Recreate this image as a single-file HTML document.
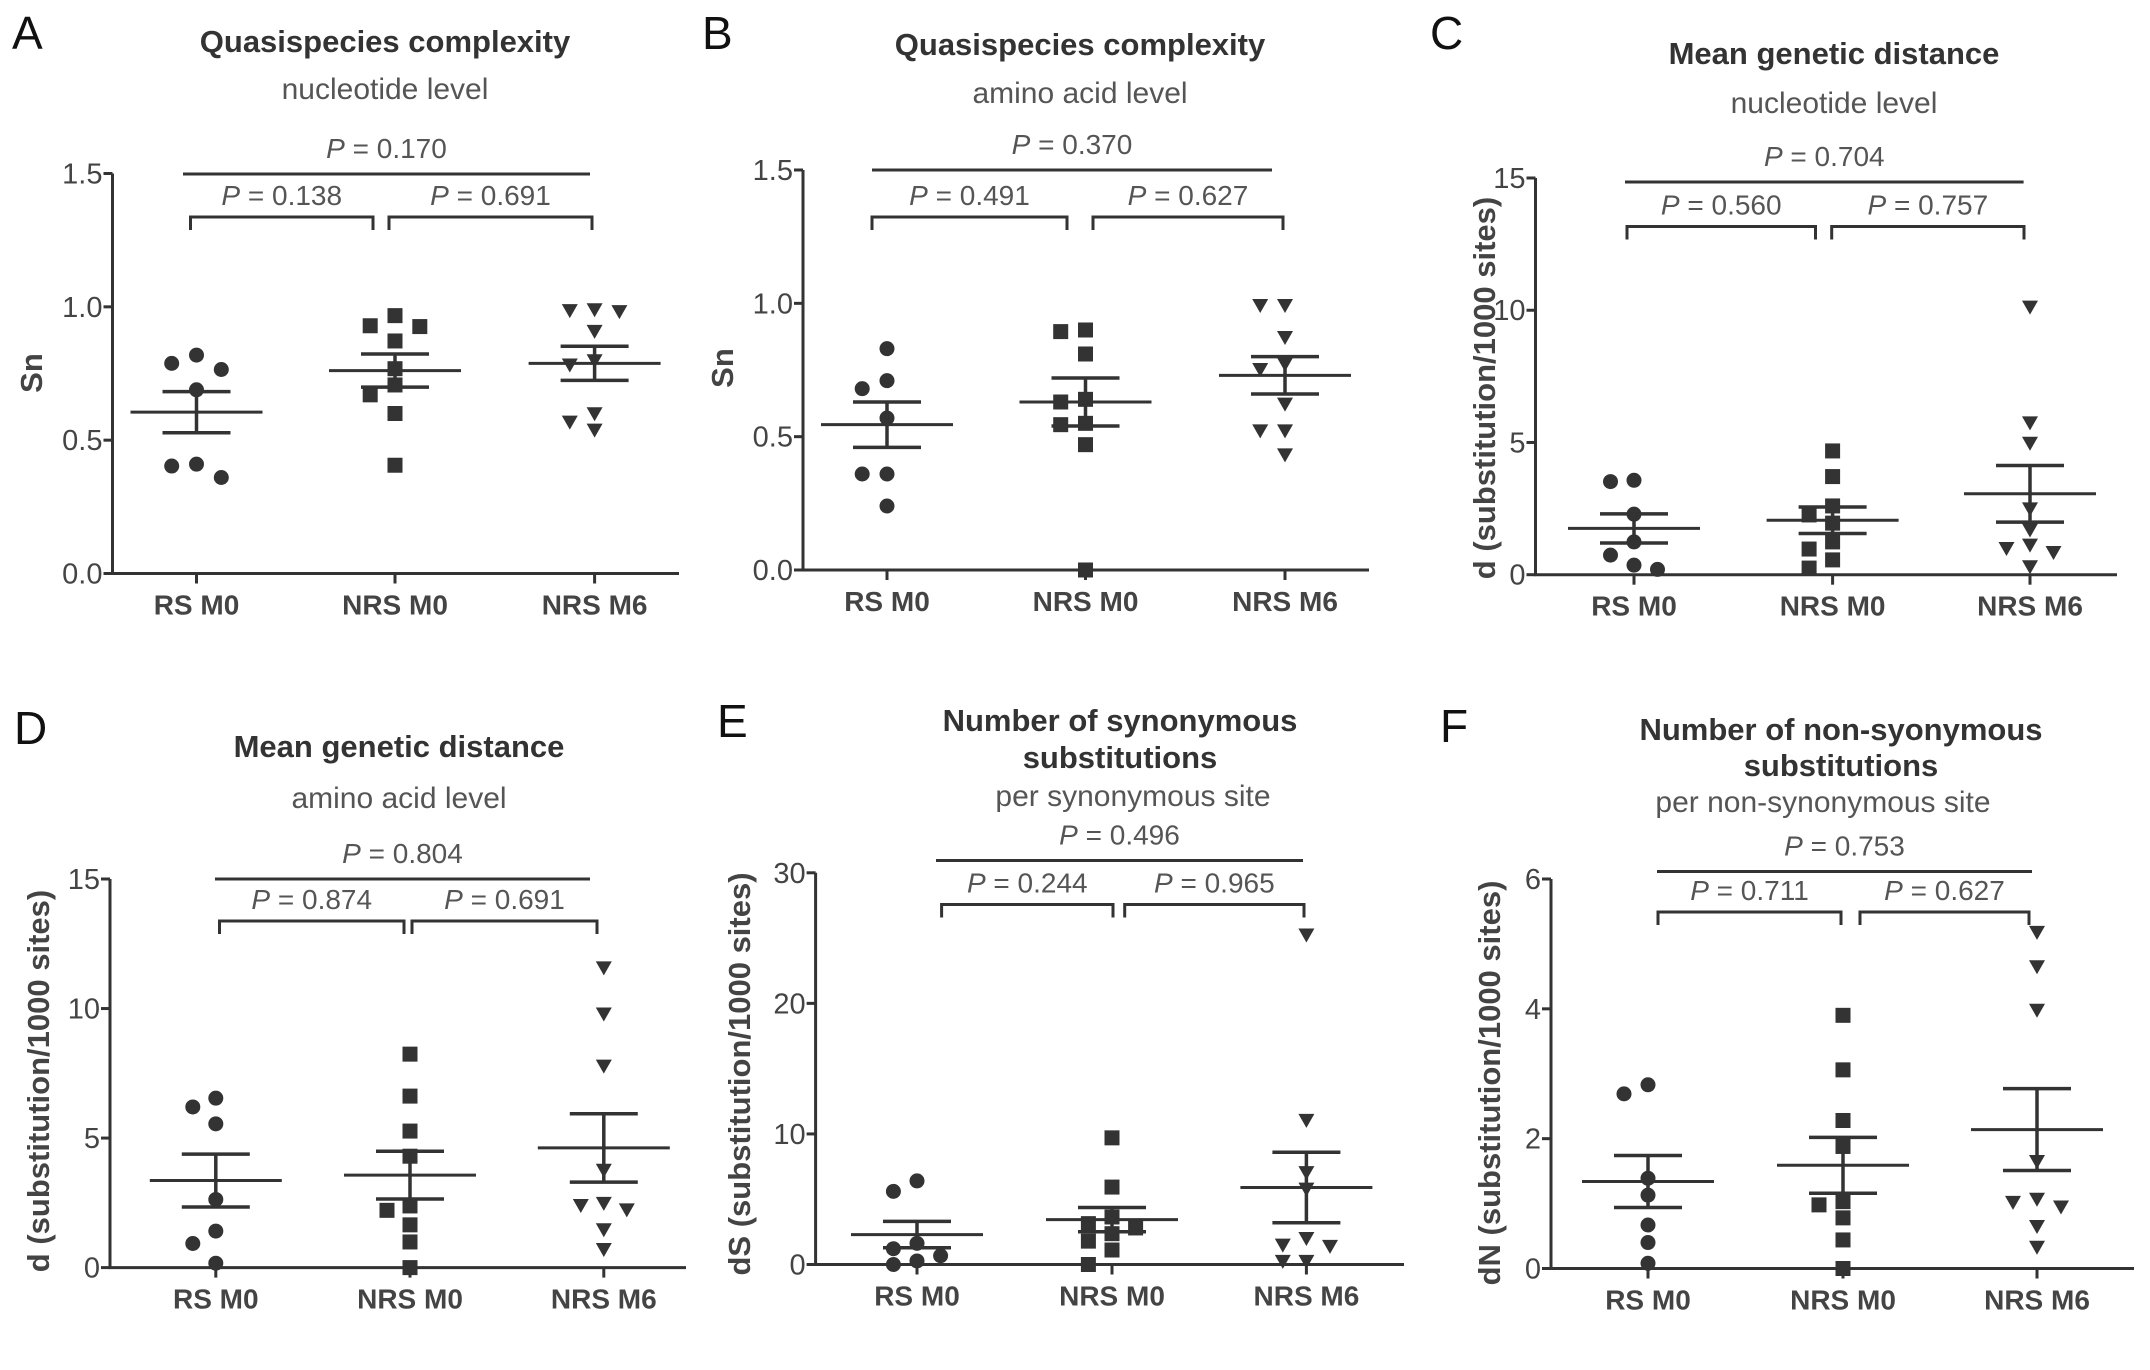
<!DOCTYPE html>
<html><head><meta charset="utf-8"><style>
html,body{margin:0;padding:0;background:#fff}
svg{display:block}
text{font-family:"Liberation Sans",Arial,sans-serif}
</style></head><body>
<svg id="fig" width="2150" height="1370" viewBox="0 0 2150 1370" xmlns="http://www.w3.org/2000/svg"></svg>
<script>
// ---- data ----
const categories = ["RS M0", "NRS M0", "NRS M6"];
const markerShapes = ["circle", "square", "triangle"];

// Panel A: Sn nucleotide
const aRs   = [0.765, 0.788, 0.819, 0.689, 0.41, 0.36, 0.403];
const aNrs0 = [0.926, 0.967, 0.929, 0.872, 0.768, 0.707, 0.67, 0.60, 0.406];
const aNrs6 = [0.984, 0.98, 0.987, 0.906, 0.796, 0.78, 0.597, 0.536, 0.566];
const aMean = [0.605, 0.761, 0.788];
const aSem  = [0.077, 0.062, 0.064];
const aTicks = [0, 0.5, 1.0, 1.5];
const aTickLabels = ["0.0", "0.5", "1.0", "1.5"];
const aPvals = ["0.138", "0.691", "0.170"];

// Panel B: Sn amino acid
const bRs   = [0.83, 0.71, 0.68, 0.57, 0.36, 0.36, 0.24];
const bNrs0 = [0.894, 0.90, 0.81, 0.64, 0.63, 0.545, 0.55, 0.47, 0.0];
const bNrs6 = [0.99, 0.99, 0.87, 0.75, 0.77, 0.62, 0.52, 0.52, 0.43];
const bMean = [0.545, 0.63, 0.73];
const bSem  = [0.085, 0.09, 0.07];
const bTicks = [0, 0.5, 1.0, 1.5];
const bTickLabels = ["0.0", "0.5", "1.0", "1.5"];
const bPvals = ["0.491", "0.627", "0.370"];

// Panel C: d nucleotide
const cRs   = [3.57, 3.52, 2.29, 1.24, 0.74, 0.2, 0.36];
const cNrs0 = [4.68, 3.71, 2.6, 2.26, 1.95, 1.24, 0.97, 0.56, 0.25];
const cNrs6 = [10.1, 5.72, 4.95, 2.47, 1.67, 0.97, 0.82, 1.1, 0.28];
const cMean = [1.75, 2.06, 3.06];
const cSem  = [0.55, 0.50, 1.07];
const cTicks = [0, 5, 10, 15];
const cTickLabels = ["0", "5", "10", "15"];
const cPvals = ["0.560", "0.757", "0.704"];

// Panel D: d amino acid
const dRs   = [6.2, 6.54, 5.55, 2.63, 1.41, 0.93, 0.17];
const dNrs0 = [8.24, 6.62, 5.27, 4.3, 2.21, 2.38, 1.65, 0.99, 0.0];
const dNrs6 = [11.55, 9.77, 7.76, 3.74, 2.38, 2.21, 2.46, 1.44, 0.68];
const dMean = [3.36, 3.57, 4.62];
const dSem  = [1.02, 0.92, 1.32];
const dTicks = [0, 5, 10, 15];
const dTickLabels = ["0", "5", "10", "15"];
const dPvals = ["0.874", "0.691", "0.804"];

// Panel E: dS
const eRs   = [6.4, 5.6, 1.62, 1.21, 0.67, 0.27, 0.0];
const eNrs0 = [9.7, 5.93, 3.64, 3.13, 2.36, 2.8, 1.79, 1.11, 0.0];
const eNrs6 = [25.2, 11.0, 7.0, 5.73, 1.35, 1.95, 1.45, 0.2, 0.2];
const eMean = [2.29, 3.44, 5.9];
const eSem  = [1.01, 0.93, 2.7];
const eTicks = [0, 10, 20, 30];
const eTickLabels = ["0", "10", "20", "30"];
const ePvals = ["0.244", "0.965", "0.496"];

// Panel F: dN
const fRs   = [2.83, 2.69, 1.39, 1.13, 0.67, 0.4, 0.08];
const fNrs0 = [3.9, 3.06, 2.28, 1.88, 1.03, 0.98, 0.78, 0.44, 0.0];
const fNrs6 = [5.17, 4.64, 3.97, 1.64, 1.01, 0.94, 1.06, 0.64, 0.32];
const fMean = [1.34, 1.59, 2.14];
const fSem  = [0.40, 0.43, 0.63];
const fTicks = [0, 2, 4, 6];
const fTickLabels = ["0", "2", "4", "6"];
const fPvals = ["0.711", "0.627", "0.753"];

// ---- layout ----
const NS = "http://www.w3.org/2000/svg";
const svg = document.getElementById("fig");
const INK = "#333";

function mk(tag, attrs, parent) {
  const e = document.createElementNS(NS, tag);
  for (const k in attrs) e.setAttribute(k, attrs[k]);
  (parent || svg).appendChild(e);
  return e;
}
function txt(s, attrs, parent) { const t = mk("text", attrs, parent); t.textContent = s; return t; }

function drawPanel(L, groups, means, sems, ticks, tickLabels, pvals) {
  const g = mk("g", {});
  
  
  const yScale = v => L.y0 - (v / L.yMax) * (L.y0 - L.yTop);
  const xScale = i => L.cats[i];

  const letter = txt(L.id, {x: L.letter[0], y: L.letter[1], "font-size": 46, fill: "#111"}, g);
  
  
  L.titles.forEach((t) => {
    const el = txt(t[0], {x: t[1], y: t[2], "text-anchor": "middle", "font-size": t[3] ? 31 : 30,
      "font-weight": t[3] ? "bold" : "normal", fill: t[3] ? "#333" : "#555"}, g);
    
    
  });
  const ya = mk("line", {x1: L.ax, y1: L.yTop, x2: L.ax, y2: L.y0, stroke: INK, "stroke-width": 3}, g);
  
  
  const xa = mk("line", {x1: L.ax - 1.5, y1: L.y0, x2: L.xEnd, y2: L.y0, stroke: INK, "stroke-width": 3}, g);
  
  
  ticks.forEach((v, i) => {
    const y = yScale(v);
    mk("line", {x1: L.ax - 9, y1: y, x2: L.ax, y2: y, stroke: INK, "stroke-width": 3}, g);
    const tl = txt(tickLabels[i], {x: L.ax - 10, y: y + 10, "text-anchor": "end", "font-size": 29, fill: "#444"}, g);
    
    
  });
  categories.forEach((c, i) => {
    const x = xScale(i);
    mk("line", {x1: x, y1: L.y0, x2: x, y2: L.y0 + 10, stroke: INK, "stroke-width": 3}, g);
    const cl = txt(c, {x: x, y: L.y0 + 41, "text-anchor": "middle", "font-size": 28, "font-weight": "bold", fill: "#444"}, g);
    
    
  });
  const yt = txt(L.yTitle, {x: 0, y: 0, "text-anchor": "middle", "font-size": 31, "font-weight": "bold", fill: "#444",
    transform: `translate(${L.yTitlePos[0] + 11},${L.yTitlePos[1]}) rotate(-90)`}, g);
  
  

  const b = L.br;
  function ptext(val, cx, cy) {
    const t = mk("text", {x: cx, y: cy + 10, "text-anchor": "middle", "font-size": 28, fill: "#555"}, g);
    const s1 = mk("tspan", {"font-style": "italic"}, t); s1.textContent = "P";
    const s2 = mk("tspan", {}, t); s2.textContent = " = " + val;
    
    
  }
  const top = mk("line", {x1: b.top[0], y1: b.top[2], x2: b.top[1], y2: b.top[2], stroke: INK, "stroke-width": 3}, g);
  
  
  ptext(pvals[2], (b.top[0] + b.top[1]) / 2, b.top[2] - 26);
  [b.l, b.r].forEach((br, i) => {
    const p = mk("path", {d: `M${br[0]},${b.by + 13} V${b.by} H${br[1]} V${b.by + 13}`, fill: "none", stroke: INK, "stroke-width": 3}, g);
    
    
    ptext(pvals[i], (br[0] + br[1]) / 2, b.by - 22);
  });

  groups.forEach((vals, gi) => {
    const cx = xScale(gi);
    const order = vals.map((v, i) => i).sort((a, b2) => vals[b2] - vals[a]);
    const placed = [];
    order.forEach(i => {
      const y = yScale(vals[i]);
      let off = 0;
      for (const cand of [0, -1, 1, -2, 2]) {
        if (!placed.some(p => p.o === cand && Math.abs(p.y - y) < 15)) { off = cand; break; }
      }
      placed.push({o: off, y: y});
      const x = cx + off * L.jit;
      let m;
      const shape = markerShapes[gi];
      if (shape === "circle") m = mk("circle", {cx: x, cy: y, r: 7.5, fill: INK}, g);
      else if (shape === "square") m = mk("rect", {x: x - 7.5, y: y - 7.5, width: 15, height: 15, fill: INK}, g);
      else m = mk("path", {d: `M${x - 8},${y - 7} L${x + 8},${y - 7} L${x},${y + 7} Z`, fill: INK}, g);
      
      
    });
    const ym = yScale(means[gi]), yh = yScale(means[gi] + sems[gi]), yl = yScale(means[gi] - sems[gi]);
    const ml = mk("line", {x1: cx - 66, y1: ym, x2: cx + 66, y2: ym, stroke: INK, "stroke-width": 3}, g);
    
    
    const eb = mk("path", {d: `M${cx - 34},${yh} H${cx + 34} M${cx},${yh} V${yl} M${cx - 34},${yl} H${cx + 34}`, fill: "none", stroke: INK, "stroke-width": 3.5}, g);
    
    
  });
}

drawPanel({id: "A", ax: 112.5, y0: 573.5, yTop: 173.5, xEnd: 679, yMax: 1.5, cats: [196.5, 395, 594.6], jit: 24.8,
  letter: [12, 49], titles: [["Quasispecies complexity", 385, 52, true], ["nucleotide level", 385, 99, false]],
  yTitle: "Sn", yTitlePos: [31, 373],
  br: {top: [183, 590, 174], by: 217, l: [190.5, 373], r: [389, 592]}},
  [aRs, aNrs0, aNrs6], aMean, aSem, aTicks, aTickLabels, aPvals);

drawPanel({id: "B", ax: 803, y0: 570, yTop: 170, xEnd: 1369, yMax: 1.5, cats: [887, 1085.5, 1285], jit: 24.8,
  letter: [702, 49], titles: [["Quasispecies complexity", 1080, 55, true], ["amino acid level", 1080, 103, false]],
  yTitle: "Sn", yTitlePos: [722, 368],
  br: {top: [872, 1272, 170], by: 217, l: [872, 1067], r: [1093, 1283]}},
  [bRs, bNrs0, bNrs6], bMean, bSem, bTicks, bTickLabels, bPvals);

drawPanel({id: "C", ax: 1535.5, y0: 574.7, yTop: 178, xEnd: 2117, yMax: 15, cats: [1634, 1832.6, 2030], jit: 23.5,
  letter: [1430, 49], titles: [["Mean genetic distance", 1834, 64, true], ["nucleotide level", 1834, 113, false]],
  yTitle: "d (substitution/1000 sites)", yTitlePos: [1484, 388],
  br: {top: [1625, 2023.6, 182], by: 226.5, l: [1627, 1815.5], r: [1831.7, 2024]}},
  [cRs, cNrs0, cNrs6], cMean, cSem, cTicks, cTickLabels, cPvals);

drawPanel({id: "D", ax: 110, y0: 1267.6, yTop: 879, xEnd: 686, yMax: 15, cats: [215.8, 410, 603.8], jit: 23,
  letter: [14, 744], titles: [["Mean genetic distance", 399, 757, true], ["amino acid level", 399, 808, false]],
  yTitle: "d (substitution/1000 sites)", yTitlePos: [38, 1081],
  br: {top: [215, 590, 879], by: 921, l: [219.5, 404], r: [412, 597]}},
  [dRs, dNrs0, dNrs6], dMean, dSem, dTicks, dTickLabels, dPvals);

drawPanel({id: "E", ax: 815.6, y0: 1264.5, yTop: 872.8, xEnd: 1404, yMax: 30, cats: [917, 1112, 1306.4], jit: 23.6,
  letter: [717, 737], titles: [["Number of synonymous", 1120, 731, true], ["substitutions", 1120, 768, true], ["per synonymous site", 1133, 806, false]],
  yTitle: "dS (substitution/1000 sites)", yTitlePos: [739, 1074],
  br: {top: [936, 1303, 860.5], by: 904.5, l: [941.6, 1113], r: [1124.7, 1304]}},
  [eRs, eNrs0, eNrs6], eMean, eSem, eTicks, eTickLabels, ePvals);

drawPanel({id: "F", ax: 1551, y0: 1268.5, yTop: 879, xEnd: 2134, yMax: 6, cats: [1648, 1843, 2037], jit: 24,
  letter: [1440, 742], titles: [["Number of non-syonymous", 1841, 740, true], ["substitutions", 1841, 776, true], ["per non-synonymous site", 1823, 812, false]],
  yTitle: "dN (substitution/1000 sites)", yTitlePos: [1489, 1083],
  br: {top: [1657, 2032, 871.5], by: 912, l: [1658, 1841], r: [1860, 2029]}},
  [fRs, fNrs0, fNrs6], fMean, fSem, fTicks, fTickLabels, fPvals);
</script>
</body></html>
